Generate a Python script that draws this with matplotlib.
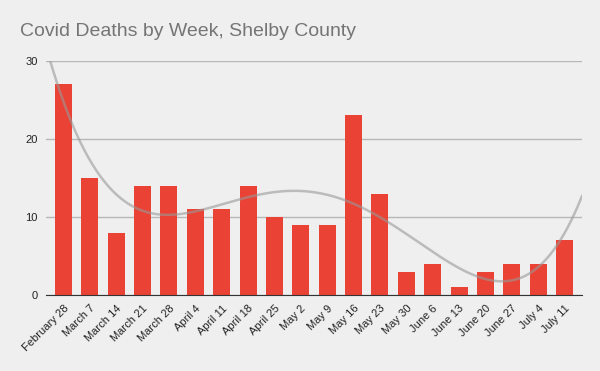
import numpy as np
import matplotlib
matplotlib.use('Agg')
import matplotlib.pyplot as plt

weeks = ['February 28', 'March 7', 'March 14', 'March 21', 'March 28', 'April 4',
         'April 11', 'April 18', 'April 25', 'May 2', 'May 9', 'May 16', 'May 23',
         'May 30', 'June 6', 'June 13', 'June 20', 'June 27', 'July 4', 'July 11']
deaths = [27, 15, 8, 14, 14, 11, 11, 14, 10, 9, 9, 23, 13, 3, 4, 1, 3, 4, 4, 7]
yticks = [0, 10, 20, 30]

plt.rcParams['font.family'] = ['Liberation Sans', 'DejaVu Sans']

fig = plt.figure(figsize=(6, 3.71), dpi=100, facecolor='#efefef')
ax = fig.add_axes([46 / 600, 0.205, 536 / 600, 0.631])
ax.set_facecolor('#efefef')

x = np.arange(len(deaths))
ax.bar(x, deaths, width=0.645, color='#ea4335', zorder=3)

# polynomial trendline (degree 4) like the spreadsheet one
pad = 0.664
coef = np.polyfit(x, deaths, 4)
xs = np.linspace(-pad, len(deaths) - 1 + pad, 300)
ax.plot(xs, np.polyval(coef, xs), color='#999999', alpha=0.6, linewidth=1.8, zorder=4)

ax.set_xlim(-pad, len(deaths) - 1 + pad)
ax.set_ylim(0, 30)
ax.set_yticks(yticks)
ax.set_yticklabels([str(t) for t in yticks], fontsize=8, color='#222222')
ax.set_xticks(x)
ax.set_xticklabels(weeks, rotation=45, ha='right', rotation_mode='anchor',
                   fontsize=8, color='#222222')
ax.tick_params(axis='both', length=0, pad=6)
ax.grid(axis='y', color='#b7b7b7', linewidth=1, zorder=0)
for s in ['top', 'right', 'left']:
    ax.spines[s].set_visible(False)
ax.spines['bottom'].set_color('#333333')
ax.spines['bottom'].set_zorder(5)

fig.text(20 / 600, 1 - 31 / 371, 'Covid Deaths by Week, Shelby County',
         fontsize=14, color='#757575', va='center', ha='left')

fig.savefig('out.png', dpi=100, facecolor=fig.get_facecolor())
